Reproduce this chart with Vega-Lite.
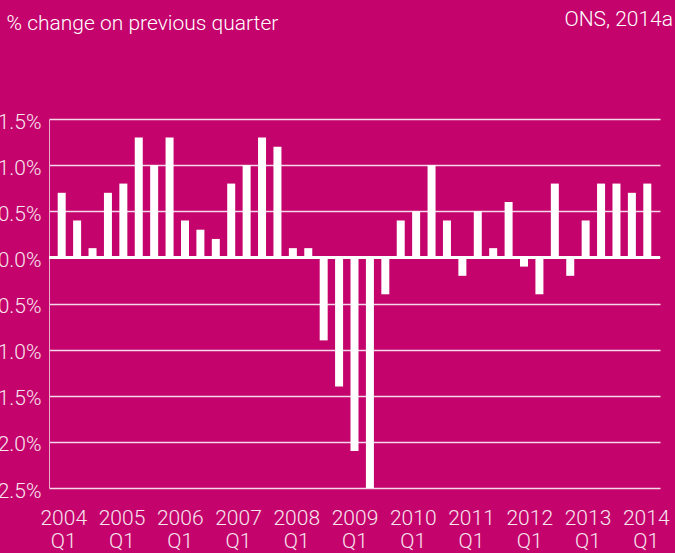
{
  "$schema": "https://vega.github.io/schema/vega-lite/v6.json",
  "width": 611,
  "height": 369,
  "autosize": {"type": "none"},
  "padding": {"left": 49, "top": 119, "right": 15, "bottom": 65},
  "background": "#C4036C",
  "config": {"view": {"stroke": null}, "font": "Roboto"},
  "title": {"text": "ONS, 2014a", "anchor": "end", "frame": "group", "dx": 13, "offset": -18, "fontSize": 21, "fontWeight": 300, "color": "#FFFFFF", "font": "Roboto"},
  "data": {"values": [
    {"n": 1, "change": 0.7}, {"n": 2, "change": 0.4}, {"n": 3, "change": 0.1}, {"n": 4, "change": 0.7},
    {"n": 5, "change": 0.8}, {"n": 6, "change": 1.3}, {"n": 7, "change": 1.0}, {"n": 8, "change": 1.3},
    {"n": 9, "change": 0.4}, {"n": 10, "change": 0.3}, {"n": 11, "change": 0.2}, {"n": 12, "change": 0.8},
    {"n": 13, "change": 1.0}, {"n": 14, "change": 1.3}, {"n": 15, "change": 1.2}, {"n": 16, "change": 0.1},
    {"n": 17, "change": 0.1}, {"n": 18, "change": -0.9}, {"n": 19, "change": -1.4}, {"n": 20, "change": -2.1},
    {"n": 21, "change": -2.5}, {"n": 22, "change": -0.4}, {"n": 23, "change": 0.4}, {"n": 24, "change": 0.5},
    {"n": 25, "change": 1.0}, {"n": 26, "change": 0.4}, {"n": 27, "change": -0.2}, {"n": 28, "change": 0.5},
    {"n": 29, "change": 0.1}, {"n": 30, "change": 0.6}, {"n": 31, "change": -0.1}, {"n": 32, "change": -0.4},
    {"n": 33, "change": 0.8}, {"n": 34, "change": -0.2}, {"n": 35, "change": 0.4}, {"n": 36, "change": 0.8},
    {"n": 37, "change": 0.8}, {"n": 38, "change": 0.7}, {"n": 39, "change": 0.8}
  ]},
  "layer": [
    {
      "mark": {"type": "bar", "color": "#FFFFFF", "size": 8},
      "encoding": {
        "x": {
          "field": "n", "type": "quantitative",
          "scale": {"domain": [0.5, 39.5], "nice": false, "zero": false},
          "axis": {
            "values": [1.1, 4.88, 8.66, 12.44, 16.22, 20, 23.78, 27.56, 31.34, 35.12, 38.9],
            "labelExpr": "[toString(2004 + round((datum.value - 1.1) / 3.78)), 'Q1']",
            "grid": false, "domain": false, "ticks": false,
            "labelFontSize": 21, "labelFontWeight": 300, "labelColor": "#F7E6EF",
            "labelPadding": 19, "labelLineHeight": 23, "labelBaseline": "top",
            "labelFlush": false, "labelOverlap": false, "title": null
          }
        },
        "y": {
          "field": "change", "type": "quantitative",
          "scale": {"domain": [-2.5, 1.5], "nice": false},
          "axis": {
            "values": [-2.5, -2, -1.5, -1, -0.5, 0, 0.5, 1, 1.5],
            "labelExpr": "format(datum.value, '.1f') + '%'",
            "grid": true, "gridColor": "#FFFFFF", "gridWidth": 1.5, "gridOpacity": 0.85,
            "domain": true, "domainColor": "#E6AECB", "domainWidth": 1,
            "ticks": false, "labelPadding": 8, "labelOffset": 3,
            "labelFontSize": 21, "labelFontWeight": 300, "labelColor": "#F7E6EF",
            "labelFlush": false, "labelOverlap": false,
            "title": "% change on previous quarter",
            "titleAngle": 0, "titleAlign": "left", "titleBaseline": "alphabetic",
            "titleX": -43, "titleY": -90,
            "titleFontSize": 21, "titleFontWeight": 300, "titleColor": "#FFFFFF"
          }
        }
      }
    },
    {
      "data": {"values": [{}]},
      "mark": {"type": "rule", "color": "#FFFFFF", "strokeWidth": 3},
      "encoding": {"y": {"datum": 0}}
    }
  ]
}
